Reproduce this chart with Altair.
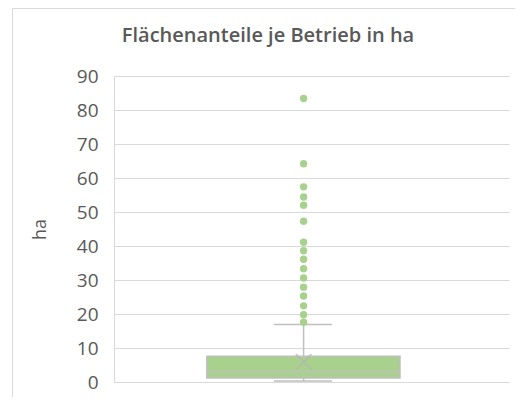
import altair as alt
import pandas as pd

# ---- data ----
chart_title = "Flächenanteile je Betrieb in ha"
y_title = "ha"
y_ticks = [0, 10, 20, 30, 40, 50, 60, 70, 80, 90]
outliers = [83.4, 64.2, 57.4, 54.4, 52.0, 47.3, 41.1, 38.6, 36.1, 33.3,
            30.6, 27.9, 25.3, 22.4, 19.8, 17.6]
q1 = 1.2
median = 3.0
q3 = 7.6
whisker_low = 0.3
whisker_high = 16.9
mean = 5.9

# ---- layout constants (fractions of the plot width) ----
center = 0.48
box_left, box_right = 0.235, 0.724
cap_left, cap_right = 0.405, 0.552

GREEN = "#a9d18e"
GRAY = "#bfbfbf"
TEXT = "#595959"
W, H = 395, 306

stats = pd.DataFrame([{
    "q1": q1, "median": median, "q3": q3, "lo": whisker_low, "hi": whisker_high,
    "mean": mean, "c": center, "bl": box_left, "br": box_right,
    "cl": cap_left, "cr": cap_right, "title": chart_title,
}])
pts = pd.DataFrame({"v": outliers, "c": [center] * len(outliers)})

xs = alt.Scale(domain=[0, 1])
ys = alt.Scale(domain=[0, 90], nice=False)

yaxis = alt.Axis(values=y_ticks, grid=True, gridColor="#d9d9d9", gridWidth=1,
                 domain=True, domainColor="#d9d9d9", ticks=False,
                 labelOverlap=False, labelPadding=16, labelFontSize=19, labelColor=TEXT,
                 labelFont="Open Sans", title=y_title, titleFont="Open Sans",
                 titleFontSize=18, titleFontWeight="normal", titleColor=TEXT,
                 titleAngle=-90, titleX=-74, titleY=H / 2, titleAlign="center",
                 titleBaseline="middle")


def X(f):
    return alt.X(f, type="quantitative", scale=xs, axis=None)


def Y(f):
    return alt.Y(f, type="quantitative", scale=ys, axis=yaxis)


base = alt.Chart(stats)

border = base.mark_rect(fill=None, stroke="#d9d9d9", strokeWidth=1).encode(
    x=alt.value(-101.5), x2=alt.value(W + 60), y=alt.value(-67.5), y2=alt.value(H + 60))

title_txt = base.mark_text(font="Open Sans", fontSize=20, fontWeight=600, color=TEXT,
                           align="center", baseline="middle").encode(
    text="title:N", x=alt.value(154), y=alt.value(-40))

whisk_up = base.mark_rule(color=GRAY, strokeWidth=1.5).encode(
    x=X("c"), y=Y("q3"), y2="hi:Q")
whisk_dn = base.mark_rule(color=GRAY, strokeWidth=1.5).encode(
    x=X("c"), y=Y("lo"), y2="q1:Q")
cap_up = base.mark_rule(color=GRAY, strokeWidth=1.5).encode(
    x=X("cl"), x2="cr:Q", y=Y("hi"))
cap_dn = base.mark_rule(color=GRAY, strokeWidth=1.5).encode(
    x=X("cl"), x2="cr:Q", y=Y("lo"))
box = base.mark_rect(fill=GREEN, stroke=GRAY, strokeWidth=1.5).encode(
    x=X("bl"), x2="br:Q", y=Y("q1"), y2="q3:Q")
med = base.mark_rule(color=GRAY, strokeWidth=1.5).encode(
    x=X("bl"), x2="br:Q", y=Y("median"))
mean_mark = base.mark_point(shape="M-1,-1L1,1M1,-1L-1,1", size=240,
                            color="#b3b3b3", strokeWidth=1.8, filled=False).encode(
    x=X("c"), y=Y("mean"))
outl = alt.Chart(pts).mark_circle(size=55, color=GREEN, opacity=1).encode(
    x=X("c"), y=Y("v"))

chart = alt.layer(border, title_txt, whisk_up, whisk_dn, cap_up, cap_dn, box, med,
                  mean_mark, outl).properties(
    width=W, height=H,
    autosize=alt.AutoSizeParams(type="none"),
    padding={"left": 106, "top": 68, "right": 6, "bottom": 15},
).configure(background="white").configure_view(stroke=None)

chart.save("out.html", embed_options={"renderer": "svg", "actions": False})
